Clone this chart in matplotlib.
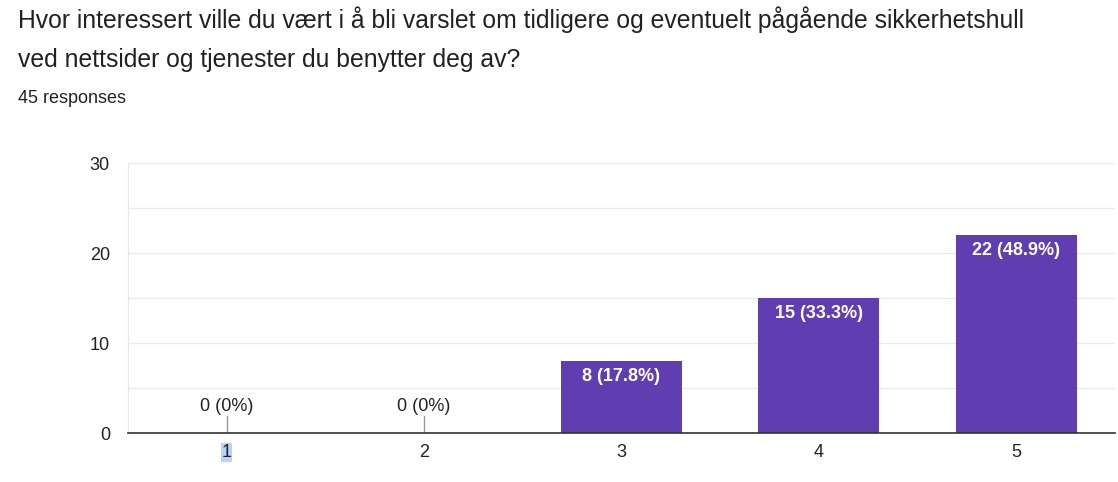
import matplotlib.pyplot as plt

# Data
categories = ['1', '2', '3', '4', '5']
counts = [0, 0, 8, 15, 22]
labels = ['0 (0%)', '0 (0%)', '8 (17.8%)', '15 (33.3%)', '22 (48.9%)']

title_lines = ['Hvor interessert ville du vært i å bli varslet om tidligere og eventuelt pågående sikkerhetshull',
               'ved nettsider og tjenester du benytter deg av?']
subtitle = '45 responses'

plt.rcParams['font.family'] = ['Liberation Sans', 'DejaVu Sans']

fig = plt.figure(figsize=(11.18, 4.82), dpi=100)
W, H = 1118, 482
ax = fig.add_axes([128 / W, 1 - 433 / H, (1115 - 128) / W, (433 - 163) / H])

x = list(range(len(categories)))
bars = ax.bar(x, counts, width=0.613, color='#603db0', zorder=3)

# Etichette sulle barre
for i, (c, lab) in enumerate(zip(counts, labels)):
    if c > 0:
        ax.annotate(lab, (i, c), xytext=(0, -5), textcoords='offset points',
                    ha='center', va='top', color='white', fontsize=13,
                    fontweight='bold', zorder=5)
    else:
        ax.plot([i, i], [0, 1.9], color='#999999', linewidth=1, zorder=4)
        ax.annotate(lab, (i, 1.95), ha='center', va='bottom', color='#222222',
                    fontsize=13, zorder=5)

ax.set_xlim(-0.5, len(categories) - 0.5)
ax.set_ylim(0, 30)
ax.set_yticks([0, 10, 20, 30])
ax.set_yticks([5, 15, 25], minor=True)
ax.set_xticks(x)
ax.set_xticklabels(categories)

ax.grid(True, axis='y', which='both', color='#ebebeb', linewidth=1, zorder=0)

for s in ['top', 'right']:
    ax.spines[s].set_visible(False)
ax.spines['left'].set_color('#e6e6e6')
ax.spines['bottom'].set_color('#333333')
ax.spines['bottom'].set_linewidth(1.2)
ax.spines['bottom'].set_zorder(6)

ax.tick_params(axis='both', which='both', length=0, labelsize=13, colors='#222222')
ax.tick_params(axis='y', pad=13)
ax.tick_params(axis='x', pad=8)

# Selezione azzurra sulla prima etichetta
ax.get_xticklabels()[0].set_bbox(dict(facecolor='#b4d5fe', edgecolor='none', pad=0.5))

fig.text(18 / W, 1 - 20 / H, title_lines[0], ha='left', va='center', fontsize=17.8,
         color='#202124')
fig.text(18 / W, 1 - 60 / H, title_lines[1], ha='left', va='center', fontsize=17.8,
         color='#202124')
fig.text(18 / W, 1 - 99 / H, subtitle, ha='left', va='center', fontsize=13,
         color='#202124')

plt.savefig('out.png', dpi=100)
